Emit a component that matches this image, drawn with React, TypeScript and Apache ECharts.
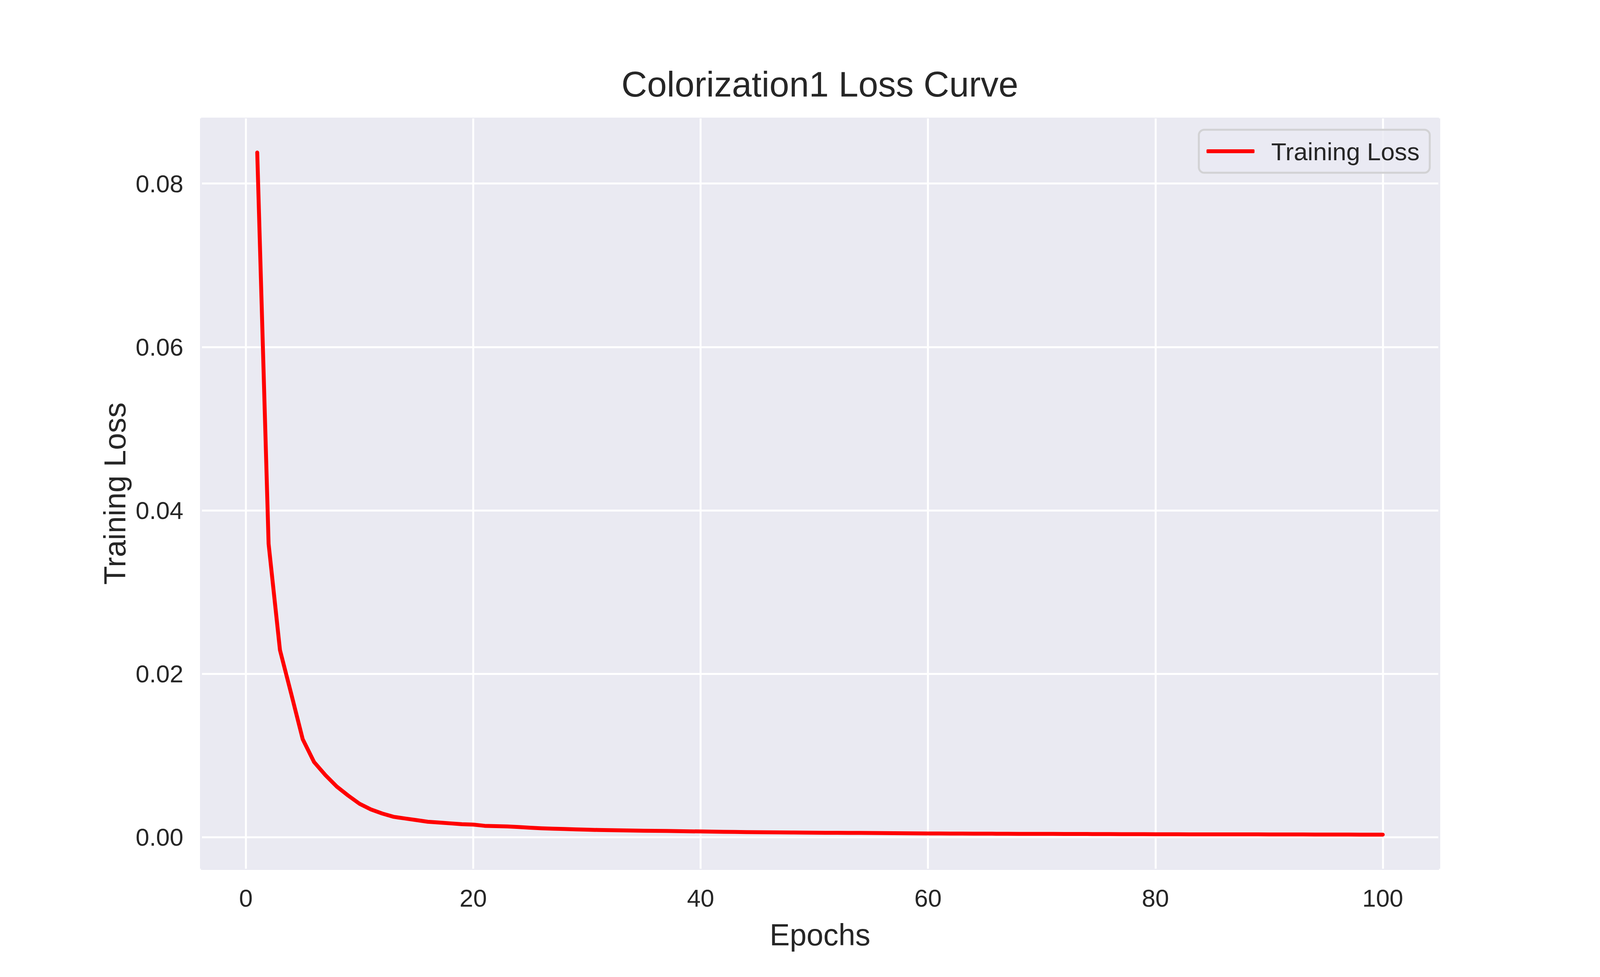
import { useEffect, useRef } from 'react';
import * as echarts from 'echarts';

// Epoch numbers (x axis)
const epochs = [
  1, 2, 3, 4, 5, 6, 7, 8, 9, 10, 11, 12, 13, 14, 15, 16, 17, 18, 19, 20,
  21, 22, 23, 24, 25, 26, 27, 28, 29, 30, 31, 32, 33, 34, 35, 36, 37, 38, 39, 40,
  41, 42, 43, 44, 45, 46, 47, 48, 49, 50, 51, 52, 53, 54, 55, 56, 57, 58, 59, 60,
  61, 62, 63, 64, 65, 66, 67, 68, 69, 70, 71, 72, 73, 74, 75, 76, 77, 78, 79, 80,
  81, 82, 83, 84, 85, 86, 87, 88, 89, 90, 91, 92, 93, 94, 95, 96, 97, 98, 99, 100,
];

// Training loss per epoch
const trainingLoss = [
  0.0838, 0.0359, 0.0229, 0.0175, 0.012, 0.0092, 0.0076, 0.0062, 0.0051, 0.0041,
  0.0034, 0.0029, 0.0025, 0.0023, 0.0021, 0.0019, 0.0018, 0.0017, 0.0016, 0.00155,
  0.0014, 0.00136, 0.00132, 0.00125, 0.00117, 0.0011, 0.00105, 0.00101, 0.00097, 0.00093,
  0.00089, 0.00087, 0.00084, 0.00082, 0.0008, 0.00078, 0.00077, 0.00075, 0.00073, 0.00071,
  0.00069, 0.00067, 0.00065, 0.00063, 0.00062, 0.0006, 0.00059, 0.00058, 0.00057, 0.00056,
  0.00055, 0.00055, 0.00054, 0.00053, 0.00052, 0.00051, 0.0005, 0.00049, 0.00047, 0.00046,
  0.00046, 0.00045, 0.00045, 0.00044, 0.00044, 0.00043, 0.00043, 0.00042, 0.00042, 0.00041,
  0.00041, 0.0004, 0.0004, 0.0004, 0.00039, 0.00039, 0.00038, 0.00038, 0.00038, 0.00037,
  0.00037, 0.00037, 0.00036, 0.00036, 0.00036, 0.00035, 0.00035, 0.00035, 0.00035, 0.00034,
  0.00034, 0.00034, 0.00034, 0.00033, 0.00033, 0.00033, 0.00033, 0.00032, 0.00032, 0.00032,
];

const TITLE = 'Colorization1 Loss Curve';
const X_NAME = 'Epochs';
const Y_NAME = 'Training Loss';
const SERIES_NAME = 'Training Loss';

const BG = '#EAEAF2';
const INK = '#262626';
const FONT = "'Liberation Sans', Arial, sans-serif";

// layout was measured on a 5000x2500 figure; scaled to the actual window
const REF_W = 5000;
const REF_H = 2500;

// matplotlib-style 5% margins around the data
function padded(values: number[]) {
  const lo = Math.min(...values);
  const hi = Math.max(...values);
  const m = (hi - lo) * 0.05;
  return [lo - m, hi + m];
}

export default function App() {
  const chartRef = useRef<HTMLDivElement>(null);
  const W = window.innerWidth || REF_W;
  const H = window.innerHeight || REF_H;

  useEffect(() => {
    document.body.style.margin = '0';
    if (!chartRef.current) return;
    const chart = echarts.init(chartRef.current, undefined, { renderer: 'svg' });

    const sx = W / REF_W;
    const sy = H / REF_H;
    const fs = (sx + sy) / 2;

    const [xMin, xMax] = padded(epochs);
    const [yMin, yMax] = padded(trainingLoss);

    // edge ticks (at min/max) get the background colour so only the nice ticks show
    const xLineColors = [BG, '#fff', '#fff', '#fff', '#fff', '#fff', '#fff', BG];
    const yLineColors = [BG, '#fff', '#fff', '#fff', '#fff', '#fff', BG];

    chart.setOption({
      animation: false,
      backgroundColor: '#fff',
      title: {
        text: TITLE,
        left: 2562 * sx,
        top: 170 * sy,
        textAlign: 'center',
        padding: 0,
        textStyle: { fontSize: 100 * fs, fontWeight: 'normal', color: INK, fontFamily: FONT },
      },
      legend: {
        data: [SERIES_NAME],
        right: 532 * sx,
        top: 332 * sy,
        orient: 'vertical',
        padding: [23 * sy, 32 * sx, 23 * sy, 24 * sx],
        backgroundColor: 'rgba(234,234,242,0.8)',
        borderColor: '#d2d2d4',
        borderWidth: 5,
        borderRadius: 14,
        itemWidth: 150 * sx,
        itemHeight: 10,
        icon: 'roundRect',
        textStyle: { fontSize: 70 * fs, color: INK, fontFamily: FONT, padding: [0, 0, 0, 46 * sx] },
      },
      grid: {
        left: 628 * sx,
        right: 503 * sx,
        top: 303 * sy,
        bottom: 277 * sy,
        show: true,
        backgroundColor: BG,
        borderWidth: 0,
      },
      xAxis: {
        type: 'value',
        min: xMin,
        max: xMax,
        splitNumber: 5,
        name: X_NAME,
        nameLocation: 'middle',
        nameGap: 130 * sy,
        nameTextStyle: { fontSize: 85 * fs, color: INK, fontFamily: FONT },
        axisLine: { show: false },
        axisTick: { show: false },
        axisLabel: {
          fontSize: 69 * fs,
          color: INK,
          fontFamily: FONT,
          margin: 43 * sy,
          showMinLabel: false,
          showMaxLabel: false,
        },
        splitLine: { show: true, lineStyle: { color: xLineColors, width: 5 } },
      },
      yAxis: {
        type: 'value',
        min: yMin,
        max: yMax,
        splitNumber: 5,
        name: Y_NAME,
        nameLocation: 'middle',
        nameGap: 221 * sx,
        nameTextStyle: { fontSize: 86 * fs, color: INK, fontFamily: FONT },
        axisLine: { show: false },
        axisTick: { show: false },
        axisLabel: {
          fontSize: 69 * fs,
          color: INK,
          fontFamily: FONT,
          margin: 55 * sx,
          showMinLabel: false,
          showMaxLabel: false,
          formatter: (v: number) => v.toFixed(2),
        },
        splitLine: { show: true, lineStyle: { color: yLineColors, width: 5 } },
      },
      series: [
        {
          name: SERIES_NAME,
          type: 'line',
          data: epochs.map((e, i) => [e, trainingLoss[i]]),
          showSymbol: false,
          symbol: 'none',
          color: '#ff0000',
          lineStyle: { color: '#ff0000', width: 10, cap: 'round', join: 'round' },
        },
      ],
    });

    return () => chart.dispose();
  }, [W, H]);

  return <div ref={chartRef} style={{ width: W, height: H }} />;
}
